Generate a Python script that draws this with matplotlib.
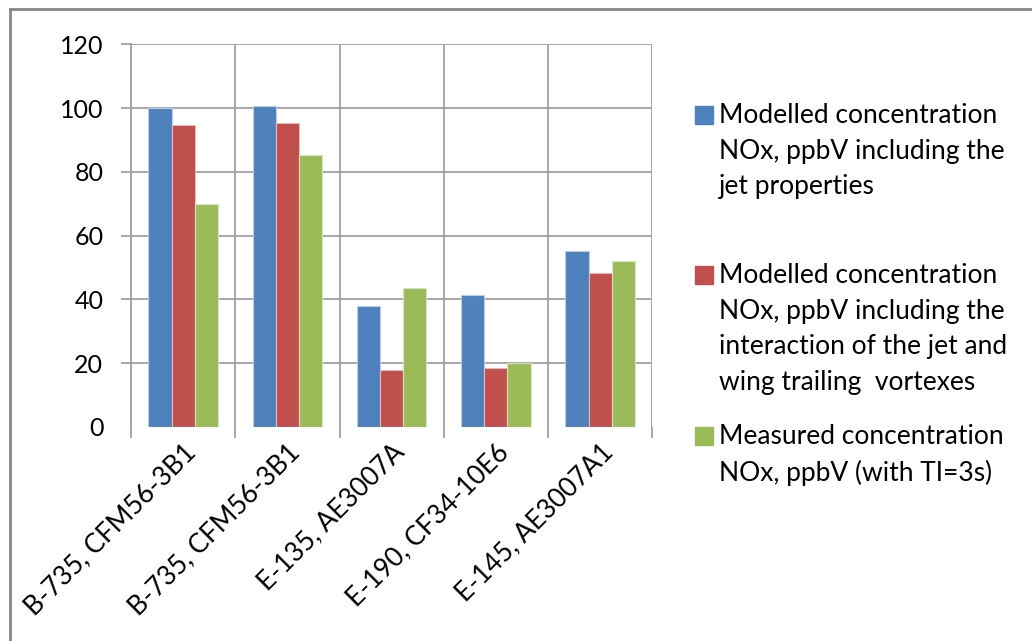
import numpy as np
import matplotlib.pyplot as plt
from matplotlib.lines import Line2D
from matplotlib.patches import Rectangle

plt.rcParams['font.family'] = ['Lato', 'DejaVu Sans']

# aircraft / engine pairs
categories = ["B-735, CFM56-3B1", "B-735, CFM56-3B1", "E-135, AE3007A",
              "E-190, CF34-10E6", "E-145, AE3007A1"]

# NOx concentrations, ppbV
jet_props = [100.0, 100.7, 37.8, 41.5, 55.1]
jet_vortex = [94.7, 95.3, 17.9, 18.4, 48.2]
measured = [70.0, 85.4, 43.7, 19.9, 52.0]

series_labels = [
    "Modelled concentration\nNOx, ppbV including the\njet properties",
    "Modelled concentration\nNOx, ppbV including the\ninteraction of the jet and\nwing trailing  vortexes",
    "Measured concentration\nNOx, ppbV (with TI=3s)",
]
colors = ['#4F81BD', '#C0504D', '#9BBB59']
edge_colors = ['#B9CDE5', '#E6B9B8', '#D7E4BD']

fig = plt.figure(figsize=(10.32, 6.41), dpi=100)
ax = fig.add_axes([0.127, 0.334, 0.505, 0.597])

x = np.arange(len(categories))
w = 0.222
for i, vals in enumerate([jet_props, jet_vortex, measured]):
    ax.bar(x + (i - 1) * w, vals, width=w, color=colors[i],
           edgecolor=edge_colors[i], linewidth=0.8, zorder=3)

grid_c = '#a0a0a0'
ax.set_xlim(-0.5, len(categories) - 0.5)
ax.set_ylim(0, 120)
ax.set_yticks(range(0, 121, 20))
ax.yaxis.grid(True, color=grid_c, linewidth=1.3, zorder=0)
ax.get_ygridlines()[0].set_visible(False)
ax.yaxis.get_major_ticks()[0].tick1line.set_visible(False)

ax.set_xticks(x)
ax.set_xticklabels(categories, rotation=45, ha='right', rotation_mode='anchor')
ax.set_xticks(np.arange(-0.5, len(categories)), minor=True)
ax.xaxis.grid(True, which='minor', color=grid_c, linewidth=1.3, zorder=0)
ax.tick_params(axis='x', which='major', length=0, pad=9, labelsize=19)
ax.tick_params(axis='x', which='minor', length=8, color=grid_c, width=1.3)
ax.tick_params(axis='y', length=7, color=grid_c, width=1.3, pad=13, labelsize=18)

for s in ['top', 'right', 'bottom']:
    ax.spines[s].set_visible(False)
ax.spines['left'].set_color(grid_c)
ax.spines['left'].set_linewidth(1.3)

# legend, Excel style
H = 641.0
legend_tops = [115, 275, 436]
for lab, col, ty in zip(series_labels, colors, legend_tops):
    fig.patches.append(Rectangle((695 / 1032, 1 - (ty + 9) / H), 18 / 1032, 18 / H,
                                 transform=fig.transFigure, color=col))
    fig.text(719 / 1032, 1 - (ty - 12) / H, lab, fontsize=19, va='top', ha='left',
             linespacing=1.53)

# chart frame (only top and left edges visible)
fig.add_artist(Line2D([10 / 1032, 1], [1 - 9 / H, 1 - 9 / H], color='#888888',
                      linewidth=2, transform=fig.transFigure))
fig.add_artist(Line2D([10 / 1032, 10 / 1032], [0, 1 - 9 / H], color='#888888',
                      linewidth=2, transform=fig.transFigure))

fig.savefig('out.png', dpi=100)
